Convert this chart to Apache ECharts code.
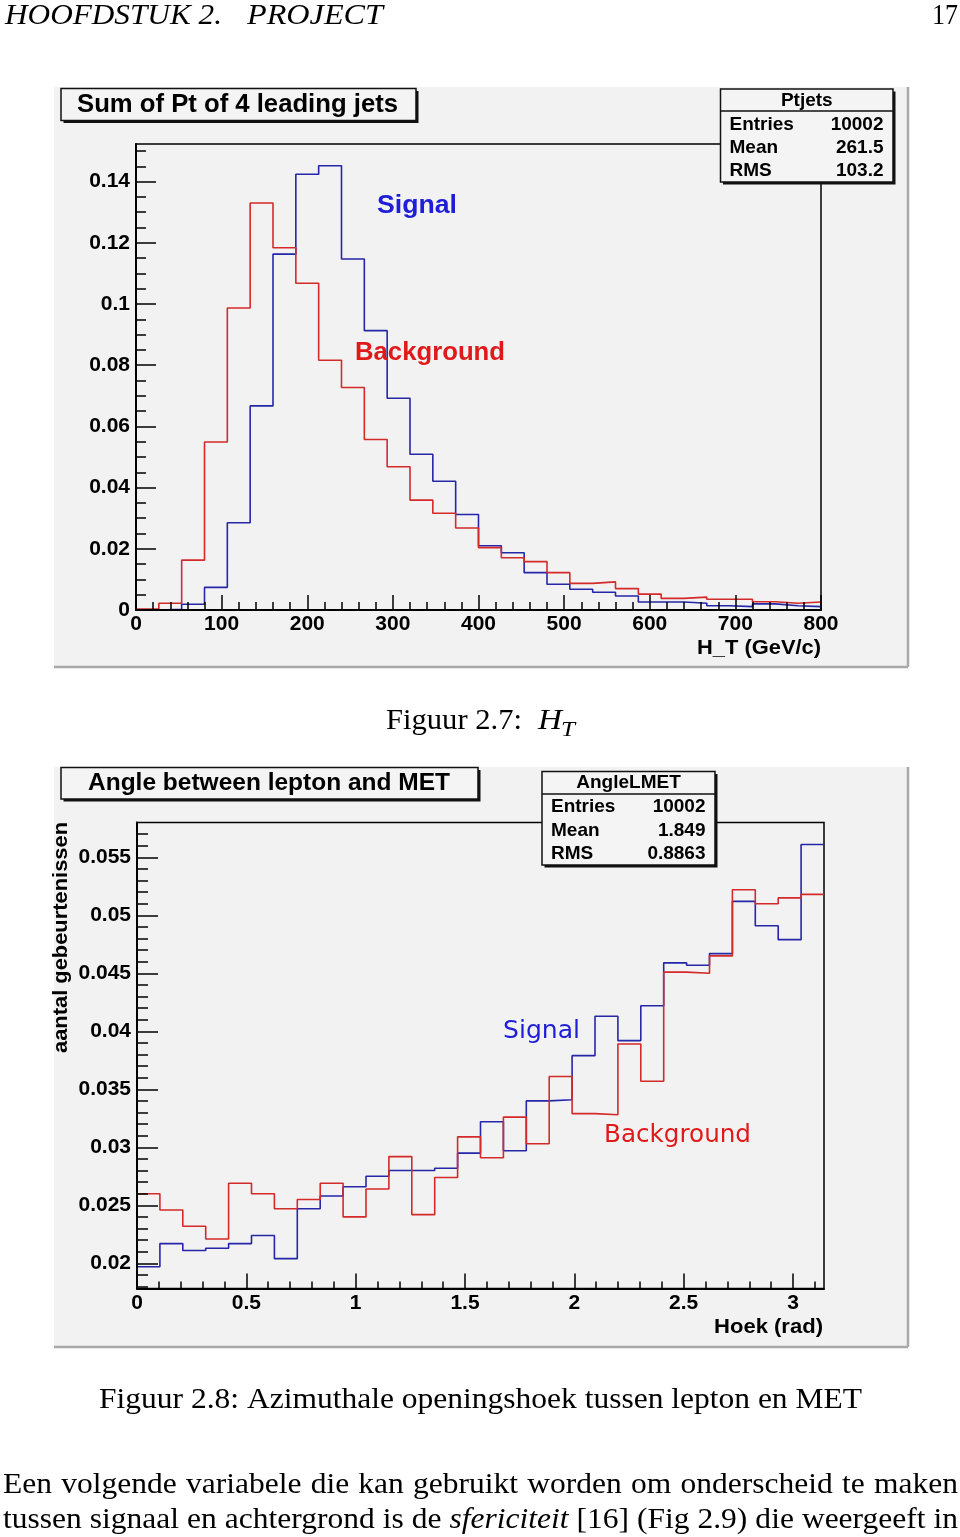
<!DOCTYPE html>
<html>
<head>
<meta charset="utf-8">
<script src="https://cdn.jsdelivr.net/npm/echarts@6/dist/echarts.min.js"></script>
<style>
html,body{margin:0;padding:0;background:#fff;}
#c{width:960px;height:1537px;}
</style>
</head>
<body>
<div id="c"></div>
<script>
// ---------- DATA ----------
const htRange = [0, 800];
const htSignal = [0.0000, 0.0002, 0.0019, 0.0074, 0.0285, 0.0667, 0.1163, 0.1424, 0.1452, 0.1147,
                  0.0913, 0.0692, 0.0509, 0.0421, 0.0312, 0.0210, 0.0187, 0.0122, 0.0084, 0.0068,
                  0.0058, 0.0046, 0.0026, 0.0026, 0.0022, 0.0014, 0.0011, 0.0020, 0.0014, 0.0011];
const htBackground = [0.0003, 0.0022, 0.0163, 0.0549, 0.0987, 0.1330, 0.1184, 0.1068, 0.0816, 0.0727,
                      0.0557, 0.0468, 0.0359, 0.0316, 0.0268, 0.0204, 0.0171, 0.0158, 0.0122, 0.0087,
                      0.0092, 0.0070, 0.0052, 0.0038, 0.0042, 0.0035, 0.0035, 0.0027, 0.0022, 0.0026];
const htXTicks = [0, 100, 200, 300, 400, 500, 600, 700, 800];
const htYTicks = [0, 0.02, 0.04, 0.06, 0.08, 0.1, 0.12, 0.14];
const htYMax = 0.1523;
const htStats = [['Entries', '10002'], ['Mean', '261.5'], ['RMS', '103.2']];

const angleRange = [0, Math.PI];
const angleSignal = [0.0197, 0.0217, 0.0211, 0.0213, 0.0217, 0.0224, 0.0204, 0.0247, 0.0258, 0.0266,
                     0.0275, 0.0280, 0.0280, 0.0282, 0.0295, 0.0322, 0.0297, 0.0340, 0.0341, 0.0379,
                     0.0413, 0.0392, 0.0422, 0.0459, 0.0457, 0.0467, 0.0512, 0.0491, 0.0479, 0.0561];
const angleBackground = [0.0260, 0.0246, 0.0232, 0.0221, 0.0269, 0.0260, 0.0247, 0.0255, 0.0269, 0.0240,
                         0.0264, 0.0292, 0.0242, 0.0274, 0.0309, 0.0291, 0.0326, 0.0303, 0.0361, 0.0329,
                         0.0328, 0.0389, 0.0357, 0.0451, 0.0450, 0.0465, 0.0522, 0.0510, 0.0515, 0.0518];
const angleXTicks = [0, 0.5, 1, 1.5, 2, 2.5, 3];
const angleYTicks = [0.02, 0.025, 0.03, 0.035, 0.04, 0.045, 0.05, 0.055];
const angleYRange = [0.017828, 0.058];
const angleStats = [['Entries', '10002'], ['Mean', '1.849'], ['RMS', '0.8863']];

// ---------- HELPERS ----------
function minors(lo, hi, step, majors) {
  const out = [];
  const n = Math.round((hi - lo) / step);
  for (let i = 0; i <= n; i++) {
    const v = +(lo + i * step).toFixed(6);
    if (!majors.some(m => Math.abs(m - v) < step / 10)) out.push(v);
  }
  return out;
}
function stepData(vals, range) {
  const w = (range[1] - range[0]) / vals.length;
  const d = vals.map((v, i) => [range[0] + i * w, v]);
  d.push([range[1], vals[vals.length - 1]]);
  return d;
}
const SANS = "'Liberation Sans', Arial, sans-serif";
const DEJAVU = "'DejaVu Sans', sans-serif";
const SERIF = "'Liberation Serif', 'Times New Roman', serif";
const ctx = document.createElement('canvas').getContext('2d');
function mw(text, font) { ctx.font = font; return ctx.measureText(text).width; }
function T(text, x, y, o) {
  const font = (o.style || 'normal') + ' ' + (o.weight || 'normal') + ' ' + o.size + 'px ' + o.family;
  const sx = o.w ? o.w / mw(text, font) : (o.sx || 1);
  return {
    type: 'text', x: x, y: y, rotation: o.rot || 0, scaleX: sx, z: o.z || 200, silent: true,
    style: {
      text: text, font: font, fill: o.fill || '#000',
      textAlign: o.align || 'left', textVerticalAlign: 'middle',
      align: o.align || 'left', verticalAlign: 'middle'
    }
  };
}
function rect(x, y, w, h, fill, stroke, lw, z) {
  return { type: 'rect', z: z, silent: true, shape: { x: x, y: y, width: w, height: h },
    style: { fill: fill, stroke: stroke || null, lineWidth: lw || 0 } };
}
function line(x1, y1, x2, y2, color, lw, z) {
  return { type: 'line', z: z, silent: true, shape: { x1: x1, y1: y1, x2: x2, y2: y2 },
    style: { stroke: color, lineWidth: lw } };
}
function paveBox(x, y, w, h) {
  return [rect(x + 2.5, y + 2.5, w, h, '#111', null, 0, 150),
          rect(x, y, w, h, '#f4f4f4', '#111', 1.5, 151)];
}
function statsBox(x, y, w, h, divY, title, rows, rowYs) {
  const els = paveBox(x, y, w, h);
  els.push(line(x, divY, x + w, divY, '#111', 1.5, 152));
  els.push(T(title, x + w / 2, (y + divY) / 2 + 0.5, { size: 19, weight: 'bold', family: SANS, align: 'center', z: 160 }));
  rows.forEach((r, i) => {
    els.push(T(r[0], x + 9, rowYs[i], { size: 19, weight: 'bold', family: SANS, z: 160 }));
    els.push(T(r[1], x + w - 9.5, rowYs[i], { size: 19, weight: 'bold', family: SANS, align: 'right', z: 160 }));
  });
  return els;
}
function pad(x, y, w, h) {
  return [rect(x, y, w, h, '#f2f2f2', null, 0, -100),
          line(x + w, y, x + w, y + h, '#a9a9a9', 2.5, -99),
          line(x, y + h, x + w, y + h, '#a9a9a9', 2.5, -99)];
}
function axisPair(dim, gi, min, max, majors, minorVals, majLen, minLen, margin) {
  const base = { type: 'value', gridIndex: gi, min: min, max: max,
    position: dim === 'x' ? 'bottom' : 'left', splitLine: { show: false }, z: 5 };
  return [
    Object.assign({}, base, {
      axisLine: { show: true, onZero: false, lineStyle: { color: '#000', width: 2 } },
      axisTick: { show: true, inside: true, length: majLen, customValues: majors, lineStyle: { color: '#000', width: 1.5 } },
      axisLabel: { show: true, customValues: majors, margin: margin, color: '#000', fontFamily: SANS,
        fontWeight: 'bold', fontSize: 21, showMinLabel: true, showMaxLabel: true,
        padding: dim === 'y' ? [5, 0, 0, 0] : [1, 0, 0, 0] }
    }),
    Object.assign({}, base, {
      axisLine: { show: false, onZero: false },
      axisTick: { show: true, inside: true, length: minLen, customValues: minorVals, lineStyle: { color: '#000', width: 1.5 } },
      axisLabel: { show: false }
    })
  ];
}

// ---------- AXES ----------
const htXMinor = minors(0, 800, 20, htXTicks);
const htYMinor = minors(0, 0.15, 0.005, htYTicks);
const angleXMinor = minors(0, 3.1, 0.1, angleXTicks);
const angleYMinor = minors(0.018, 0.057, 0.001, angleYTicks);

const xAxes = [].concat(
  axisPair('x', 0, htRange[0], htRange[1], htXTicks, htXMinor, 15, 8, 3),
  axisPair('x', 1, angleRange[0], angleRange[1], angleXTicks, angleXMinor, 15, 7, 3)
);
const yAxes = [].concat(
  axisPair('y', 0, 0, htYMax, htYTicks, htYMinor, 20, 10, 6),
  axisPair('y', 1, angleYRange[0], angleYRange[1], angleYTicks, angleYMinor, 21, 11, 6)
);

const BLUE = '#2626a8', RED = '#d42a2a';
function hist(vals, range, xi, yi, color) {
  return { type: 'line', xAxisIndex: xi, yAxisIndex: yi, step: 'end', symbol: 'none', clip: true,
    animation: false, silent: true, data: stepData(vals, range), z: 3,
    lineStyle: { color: color, width: 1.6 } };
}

// ---------- TEXT / DECORATION ----------
const g = [];
g.push.apply(g, pad(54, 87, 854, 580));
g.push.apply(g, pad(54, 767, 854, 580));
g.push.apply(g, paveBox(61, 88.5, 355, 32));
g.push(T('Sum of Pt of 4 leading jets', 237.5, 105.5, { size: 25, weight: 'bold', family: SANS, align: 'center', w: 321, z: 160 }));
g.push.apply(g, statsBox(720.5, 89, 172.5, 93, 111, 'Ptjets', htStats, [124.5, 147.5, 171]));
g.push(T('Signal', 377, 206, { size: 26, weight: 'bold', family: SANS, fill: '#1e1ed6', w: 80 }));
g.push(T('Background', 355, 353, { size: 26, weight: 'bold', family: SANS, fill: '#e01a1a', w: 150 }));
g.push(T('H_T (GeV/c)', 821, 648, { size: 21, weight: 'bold', family: SANS, align: 'right', w: 124 }));
g.push.apply(g, paveBox(61, 767.5, 417, 31.5));
g.push(T('Angle between lepton and MET', 269, 783.5, { size: 24, weight: 'bold', family: SANS, align: 'center', w: 362, z: 160 }));
g.push.apply(g, statsBox(542, 771.5, 173, 93.5, 794, 'AngleLMET', angleStats, [807, 830.5, 854]));
g.push(T('aantal gebeurtenissen', 61, 822, { size: 21, weight: 'bold', family: SANS, align: 'right', rot: Math.PI / 2, w: 231 }));
g.push(T('Signal', 503, 1032, { size: 24, family: DEJAVU, fill: '#1e1ed6', w: 77 }));
g.push(T('Background', 604, 1136, { size: 24, family: DEJAVU, fill: '#e01a1a', w: 147 }));
g.push(T('Hoek (rad)', 823, 1327, { size: 21, weight: 'bold', family: SANS, align: 'right', w: 109 }));

// document text
g.push(T('HOOFDSTUK 2.', 5, 16, { size: 30, style: 'italic', family: SERIF, w: 217 }));
g.push(T('PROJECT', 247, 16, { size: 30, style: 'italic', family: SERIF, w: 136 }));
g.push(T('17', 958, 16, { size: 30, family: SERIF, align: 'right', w: 26 }));
g.push(T('Figuur 2.7:', 386, 721, { size: 30, family: SERIF, w: 136 }));
g.push(T('H', 538, 721, { size: 30, style: 'italic', family: SERIF, w: 24 }));
g.push(T('T', 561, 730, { size: 21, style: 'italic', family: SERIF, w: 14 }));
const cap2 = 'Figuur 2.8: Azimuthale openingshoek tussen lepton en MET';
g.push(T(cap2, 99, 1400, { size: 30, family: SERIF, w: 763 }));
const serifScale = 763 / mw(cap2, 'normal normal 30px ' + SERIF);

function justify(words, x0, x1, y) {
  const ws = words.map(wd => {
    const font = (wd.it ? 'italic' : 'normal') + ' normal 30px ' + SERIF;
    return mw(wd.t, font) * serifScale;
  });
  const total = ws.reduce((a, b) => a + b, 0);
  const gap = (x1 - x0 - total) / (words.length - 1);
  let x = x0;
  words.forEach((wd, i) => {
    g.push(T(wd.t, x, y, { size: 30, family: SERIF, style: wd.it ? 'italic' : 'normal', sx: serifScale }));
    x += ws[i] + gap;
  });
}
justify('Een volgende variabele die kan gebruikt worden om onderscheid te maken'.split(' ').map(t => ({ t: t })), 3, 958, 1485);
justify([].concat(
  'tussen signaal en achtergrond is de'.split(' ').map(t => ({ t: t })),
  [{ t: 'sfericiteit', it: true }],
  '[16] (Fig 2.9) die weergeeft in'.split(' ').map(t => ({ t: t }))
), 3, 958, 1520);

// ---------- CHART ----------
const chart = echarts.init(document.getElementById('c'), null, { renderer: 'canvas', width: 960, height: 1537 });
chart.setOption({
  animation: false,
  backgroundColor: '#ffffff',
  grid: [
    { left: 136, top: 144, width: 685, height: 466, show: true, borderColor: '#000', borderWidth: 1.5, backgroundColor: 'transparent', z: 1 },
    { left: 137, top: 822.5, width: 687, height: 466, show: true, borderColor: '#000', borderWidth: 1.5, backgroundColor: 'transparent', z: 1 }
  ],
  xAxis: xAxes,
  yAxis: yAxes,
  series: [
    hist(htSignal, htRange, 0, 0, BLUE),
    hist(htBackground, htRange, 0, 0, RED),
    hist(angleSignal, angleRange, 2, 2, BLUE),
    hist(angleBackground, angleRange, 2, 2, RED)
  ],
  graphic: { elements: g }
});
</script>
</body>
</html>
